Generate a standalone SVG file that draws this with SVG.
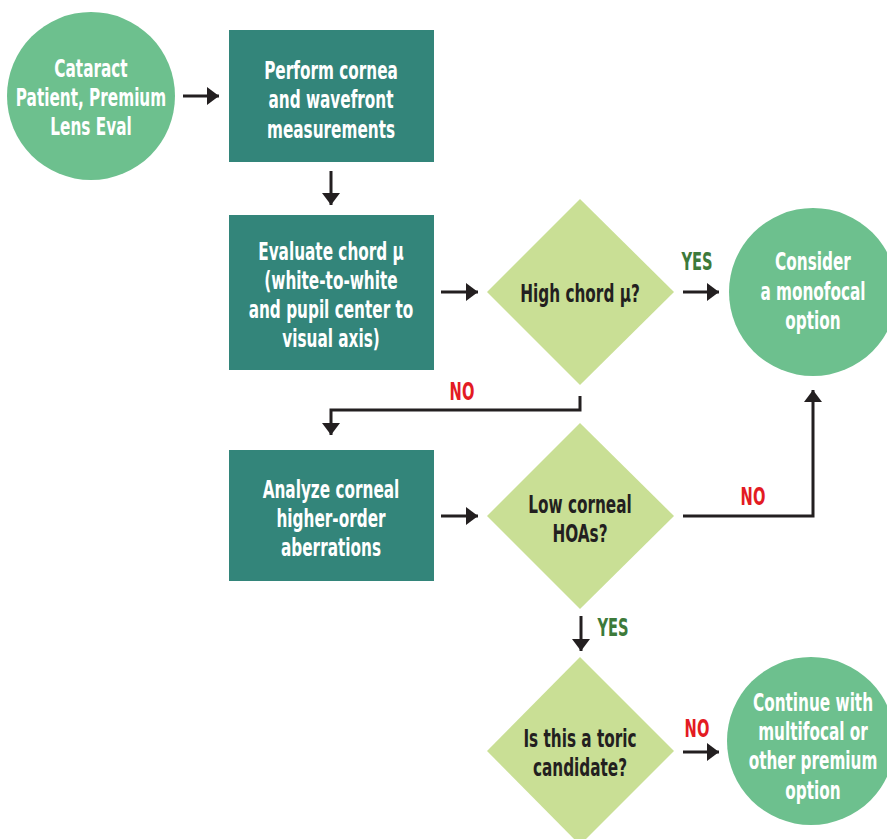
<svg xmlns="http://www.w3.org/2000/svg" width="887" height="839" viewBox="0 0 887 839">
<defs>
<style>
.circ{fill:#6dc08e}
.box{fill:#33857a}
.dia{fill:#c9df95}
text{font-family:"DejaVu Sans Condensed","Liberation Sans Narrow","Liberation Sans",sans-serif;font-weight:bold;font-size:25px;text-anchor:middle}
.lbl{font-size:24px}
.w{fill:#ffffff}
.d{fill:#231f20}
.yes{fill:#3d7a3a}
.no{fill:#e31b23}
.ln{fill:none;stroke:#231f20;stroke-width:3}
</style>
<marker id="ah" viewBox="0 0 12 18" refX="12" refY="9" markerWidth="12" markerHeight="18" markerUnits="userSpaceOnUse" orient="auto">
<path d="M0,0 L12,9 L0,18 Z" fill="#231f20"/>
</marker>
</defs>
<rect width="887" height="839" fill="#ffffff"/>

<g id="n-start">
<circle class="circ" cx="91" cy="96" r="84"/>
<g transform="translate(91,0) scale(0.68,1)">
<text class="w" x="0" y="77">Cataract</text>
<text class="w" x="0" y="106">Patient, Premium</text>
<text class="w" x="0" y="135">Lens Eval</text>
</g>
</g>

<g id="n-measure">
<rect class="box" x="229" y="30" width="205" height="132"/>
<g transform="translate(331,0) scale(0.68,1)">
<text class="w" x="0" y="79">Perform cornea</text>
<text class="w" x="0" y="108">and wavefront</text>
<text class="w" x="0" y="138">measurements</text>
</g>
</g>

<g id="n-evaluate">
<rect class="box" x="229" y="215" width="205" height="155"/>
<g transform="translate(331,0) scale(0.68,1)">
<text class="w" x="0" y="260">Evaluate chord μ</text>
<text class="w" x="0" y="289">(white-to-white</text>
<text class="w" x="0" y="318">and pupil center to</text>
<text class="w" x="0" y="347">visual axis)</text>
</g>
</g>

<g id="n-highchord">
<polygon class="dia" points="580,199 674,292 580,385 487,292"/>
<g transform="translate(580,0) scale(0.68,1)">
<text class="d" x="0" y="302">High chord μ?</text>
</g>
</g>

<g id="n-monofocal">
<circle class="circ" cx="813" cy="292" r="84"/>
<g transform="translate(813,0) scale(0.68,1)">
<text class="w" x="0" y="270">Consider</text>
<text class="w" x="0" y="300">a monofocal</text>
<text class="w" x="0" y="329">option</text>
</g>
</g>

<g id="n-analyze">
<rect class="box" x="229" y="450" width="205" height="131"/>
<g transform="translate(331,0) scale(0.68,1)">
<text class="w" x="0" y="498">Analyze corneal</text>
<text class="w" x="0" y="527">higher-order</text>
<text class="w" x="0" y="556">aberrations</text>
</g>
</g>

<g id="n-lowhoa">
<polygon class="dia" points="580,423 674,516 580,609 487,516"/>
<g transform="translate(580,0) scale(0.68,1)">
<text class="d" x="0" y="513">Low corneal</text>
<text class="d" x="0" y="542">HOAs?</text>
</g>
</g>

<g id="n-toric">
<polygon class="dia" points="580,657 674,751 580,845 487,751"/>
<g transform="translate(580,0) scale(0.68,1)">
<text class="d" x="0" y="747">Is this a toric</text>
<text class="d" x="0" y="776">candidate?</text>
</g>
</g>

<g id="n-premium">
<circle class="circ" cx="811" cy="741" r="84"/>
<g transform="translate(813,0) scale(0.68,1)">
<text class="w" x="0" y="711">Continue with</text>
<text class="w" x="0" y="740">multifocal or</text>
<text class="w" x="0" y="769">other premium</text>
<text class="w" x="0" y="799">option</text>
</g>
</g>

<g id="connectors">
<line class="ln" x1="183" y1="96" x2="219" y2="96" marker-end="url(#ah)"/>
<line class="ln" x1="331" y1="171" x2="331" y2="205" marker-end="url(#ah)"/>
<line class="ln" x1="441" y1="292" x2="478" y2="292" marker-end="url(#ah)"/>
<line class="ln" x1="683" y1="292" x2="719" y2="292" marker-end="url(#ah)"/>
<polyline class="ln" points="580,396 580,410 331,410 331,435" marker-end="url(#ah)"/>
<line class="ln" x1="441" y1="516" x2="478" y2="516" marker-end="url(#ah)"/>
<polyline class="ln" points="683,516 813,516 813,390" marker-end="url(#ah)"/>
<line class="ln" x1="581" y1="616" x2="581" y2="651" marker-end="url(#ah)"/>
<line class="ln" x1="683" y1="752" x2="719" y2="752" marker-end="url(#ah)"/>
<g transform="translate(697,0) scale(0.68,1)"><text class="yes lbl" x="0" y="270">YES</text></g>
<g transform="translate(462,0) scale(0.68,1)"><text class="no lbl" x="0" y="400">NO</text></g>
<g transform="translate(753,0) scale(0.68,1)"><text class="no lbl" x="0" y="505">NO</text></g>
<g transform="translate(613,0) scale(0.68,1)"><text class="yes lbl" x="0" y="636">YES</text></g>
<g transform="translate(697,0) scale(0.68,1)"><text class="no lbl" x="0" y="737">NO</text></g>
</g>
</svg>
